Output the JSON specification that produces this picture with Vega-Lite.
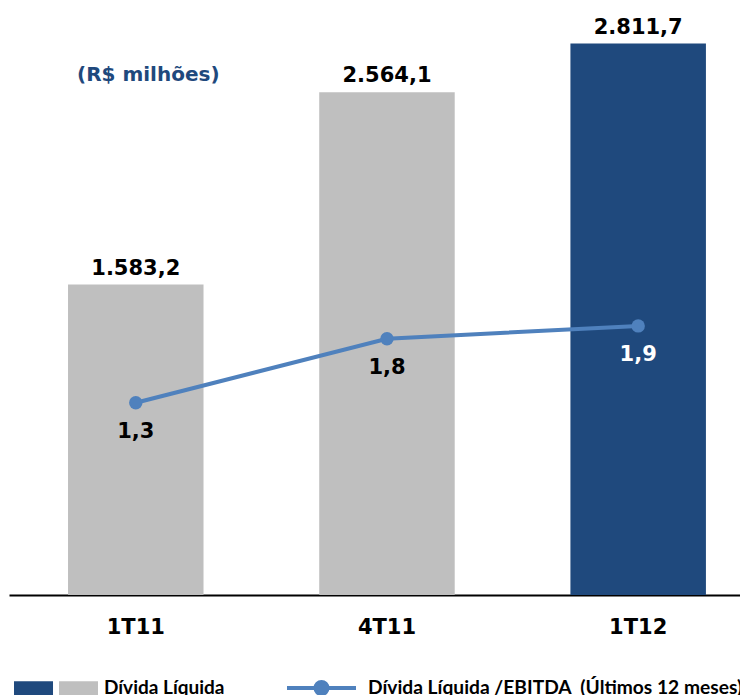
{
  "$schema": "https://vega.github.io/schema/vega-lite/v6.json",
  "width": 731,
  "height": 595,
  "autosize": {"type": "none"},
  "padding": {"left": 9, "top": 0, "right": 0, "bottom": 100},
  "background": "white",
  "config": {
    "view": {"stroke": null},
    "locale": {"number": {"decimal": ",", "thousands": ".", "grouping": [3], "currency": ["R$", ""]}}
  },
  "title": {
    "text": "(R$ milhões)",
    "anchor": "start",
    "frame": "group",
    "orient": "top",
    "font": "DejaVu Sans",
    "fontSize": 20,
    "fontWeight": "bold",
    "color": "#1F497D",
    "dx": 68,
    "dy": 85,
    "offset": 0
  },
  "data": {
    "values": [
      {"periodo": "1T11", "divida": 1583.2, "razao": 1.3, "tipo": "anterior", "serie": "Dívida Líquida /EBITDA\u00a0 (Últimos 12 meses)"},
      {"periodo": "4T11", "divida": 2564.1, "razao": 1.8, "tipo": "anterior", "serie": "Dívida Líquida /EBITDA\u00a0 (Últimos 12 meses)"},
      {"periodo": "1T12", "divida": 2811.7, "razao": 1.9, "tipo": "atual", "serie": "Dívida Líquida /EBITDA\u00a0 (Últimos 12 meses)"}
    ]
  },
  "encoding": {
    "x": {
      "field": "periodo",
      "type": "nominal",
      "sort": null,
      "scale": {"paddingInner": 0.4606, "paddingOuter": 0.1853, "align": 0.634},
      "axis": {
        "title": null,
        "labelAngle": 0,
        "ticks": false,
        "labelPadding": 21,
        "labelFont": "DejaVu Sans",
        "labelFontSize": 21,
        "labelFontWeight": "bold",
        "labelColor": "black",
        "domainColor": "black",
        "domainWidth": 2,
        "grid": false
      }
    }
  },
  "layer": [
    {
      "layer": [
        {
          "mark": {"type": "bar"},
          "encoding": {
            "y": {"field": "divida", "type": "quantitative", "scale": {"domain": [0, 3034], "nice": false}, "axis": null},
            "color": {
              "field": "tipo",
              "type": "nominal",
              "scale": {"domain": ["atual", "anterior"], "range": ["#1F497D", "#BFBFBF"]},
              "legend": {
                "orient": "none",
                "legendX": 10,
                "legendY": 668.5,
                "direction": "horizontal",
                "title": null,
                "padding": 0,
                "symbolType": "M-1.256,-0.36H0.744V0.36H-1.256Z",
                "symbolSize": 1521,
                "symbolStrokeWidth": 0,
                "labelOffset": 1,
                "columnPadding": 0,
                "labelLimit": 0,
                "labelFont": "Lato",
                "labelFontSize": 19,
                "labelFontWeight": "bold",
                "labelColor": "black",
                "labelExpr": "datum.value === 'anterior' ? 'Dívida Líquida' : ''"
              }
            }
          }
        },
        {
          "mark": {"type": "text", "font": "DejaVu Sans", "fontSize": 21, "fontWeight": "bold", "baseline": "alphabetic", "dy": -10, "color": "black"},
          "encoding": {
            "y": {"field": "divida", "type": "quantitative"},
            "text": {"field": "divida", "type": "quantitative", "format": ",.1f"}
          }
        }
      ]
    },
    {
      "layer": [
        {
          "mark": {"type": "line", "strokeWidth": 4},
          "encoding": {
            "y": {"field": "razao", "type": "quantitative", "scale": {"domain": [-0.2023, 4.446], "nice": false, "zero": false}, "axis": null},
            "stroke": {
              "field": "serie",
              "type": "nominal",
              "scale": {"range": ["#4F81BD"]},
              "legend": {
                "orient": "none",
                "legendX": 276,
                "legendY": 651.5,
                "title": null,
                "padding": 0,
                "symbolType": "M-1,0H1M-0.174,0A0.174,0.174,0,1,0,0.174,0A0.174,0.174,0,1,0,-0.174,0Z",
                "symbolSize": 4761,
                "symbolStrokeWidth": 4,
                "symbolFillColor": "#4F81BD",
                "symbolStrokeColor": "#4F81BD",
                "labelOffset": 10,
                "labelLimit": 0,
                "labelFont": "Lato",
                "labelFontSize": 19.2,
                "labelFontWeight": "bold",
                "labelColor": "black",
                "encode": {"symbols": {"update": {"fill": {"value": "#4F81BD"}, "stroke": {"value": "#4F81BD"}, "strokeWidth": {"value": 4}, "opacity": {"value": 1}}}}
              }
            }
          }
        },
        {
          "mark": {"type": "point", "filled": true, "size": 180, "opacity": 1, "color": "#4F81BD"},
          "encoding": {
            "y": {"field": "razao", "type": "quantitative"}
          }
        },
        {
          "mark": {"type": "text", "font": "DejaVu Sans", "fontSize": 21, "fontWeight": "bold", "baseline": "middle", "dy": 29},
          "encoding": {
            "y": {"field": "razao", "type": "quantitative"},
            "text": {"field": "razao", "type": "quantitative", "format": ".1f"},
            "color": {"condition": {"test": "datum.tipo === 'atual'", "value": "white"}, "value": "black"}
          }
        }
      ]
    }
  ],
  "resolve": {"scale": {"y": "independent"}}
}
